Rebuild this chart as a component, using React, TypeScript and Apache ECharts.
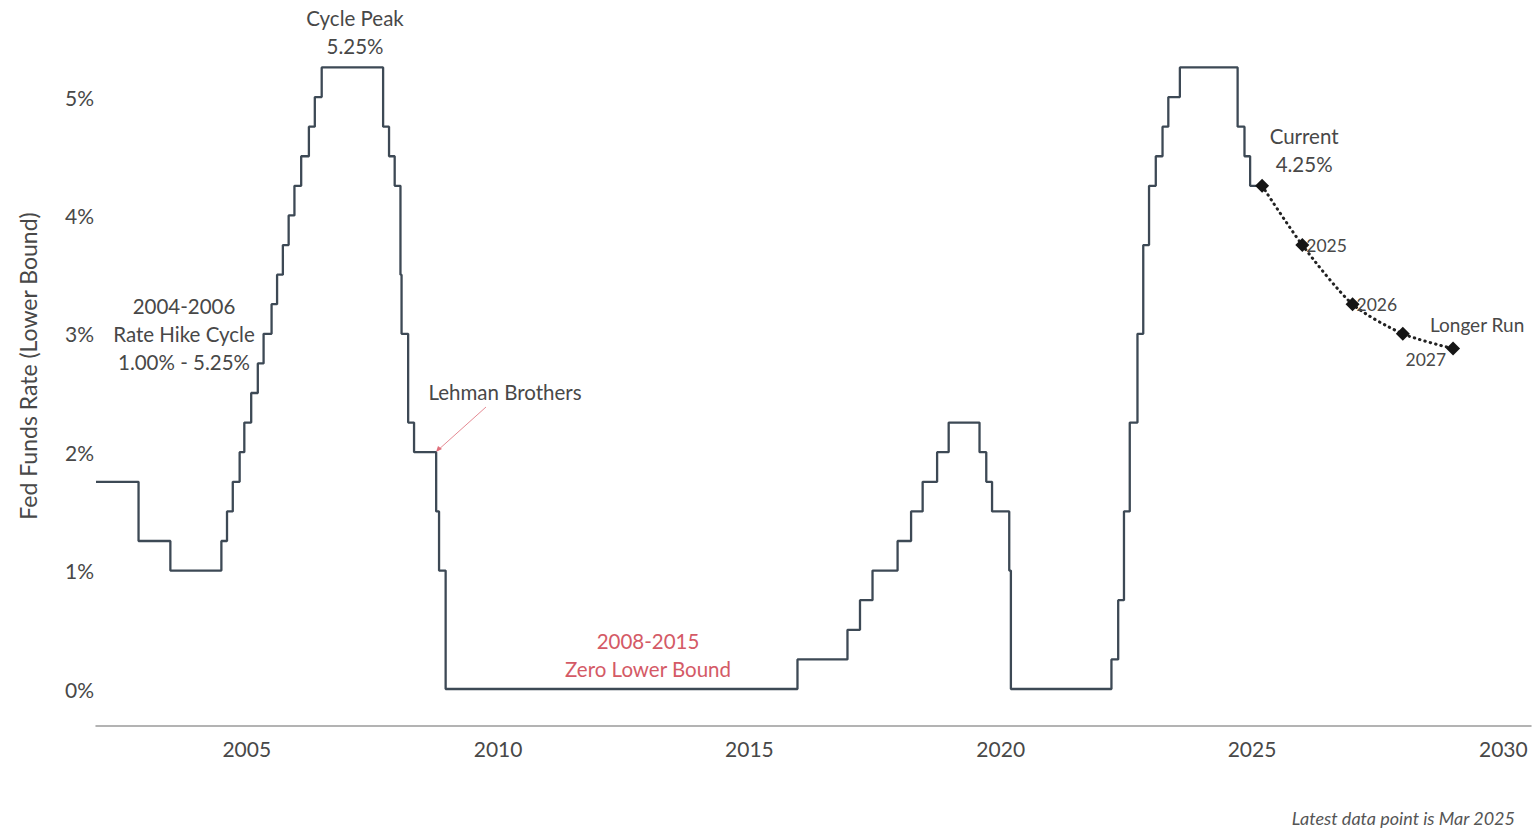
import React, { useEffect, useRef } from "react";
import * as echarts from "echarts";

// Fed funds target rate (lower bound) change dates and new levels
const changeDates = [
  "2002-01-01", "2002-11-06", "2003-06-25", "2004-06-30", "2004-08-10", "2004-09-21",
  "2004-11-10", "2004-12-14", "2005-02-02", "2005-03-22", "2005-05-03", "2005-06-30",
  "2005-08-09", "2005-09-20", "2005-11-01", "2005-12-13", "2006-01-31", "2006-03-28",
  "2006-05-10", "2006-06-29", "2007-09-18", "2007-10-31", "2007-12-11", "2008-01-22",
  "2008-01-30", "2008-03-18", "2008-04-30", "2008-10-08", "2008-10-29", "2008-12-16",
  "2015-12-16", "2016-12-14", "2017-03-15", "2017-06-14", "2017-12-13", "2018-03-21",
  "2018-06-13", "2018-09-26", "2018-12-19", "2019-07-31", "2019-09-18", "2019-10-30",
  "2020-03-03", "2020-03-15", "2022-03-16", "2022-05-04", "2022-06-15", "2022-07-27",
  "2022-09-21", "2022-11-02", "2022-12-14", "2023-02-01", "2023-03-22", "2023-05-03",
  "2023-07-26", "2024-09-18", "2024-11-07", "2024-12-18", "2025-03-15",
];
const rates = [
  1.75, 1.25, 1.0, 1.25, 1.5, 1.75,
  2.0, 2.25, 2.5, 2.75, 3.0, 3.25,
  3.5, 3.75, 4.0, 4.25, 4.5, 4.75,
  5.0, 5.25, 4.75, 4.5, 4.25, 3.5,
  3.0, 2.25, 2.0, 1.5, 1.0, 0.0,
  0.25, 0.5, 0.75, 1.0, 1.25, 1.5,
  1.75, 2.0, 2.25, 2.0, 1.75, 1.5,
  1.0, 0.0, 0.25, 0.75, 1.5, 2.25,
  3.0, 3.75, 4.25, 4.5, 4.75, 5.0,
  5.25, 4.75, 4.5, 4.25, 4.25,
];

// Projections (dot plot medians, lower bound)
const projYears = [2025.2, 2026.0, 2027.0, 2028.0, 2029.0];
const projRates = [4.25, 3.75, 3.25, 3.0, 2.875];
const projLabels = ["Current\n4.25%", "2025", "2026", "2027", "Longer Run"];

const yTicks = [0, 1, 2, 3, 4, 5];
const xTicks = [2005, 2010, 2015, 2020, 2025, 2030];

function toYear(s: string): number {
  const d = new Date(s + "T00:00:00Z");
  const y = d.getUTCFullYear();
  const a = Date.UTC(y, 0, 1);
  const b = Date.UTC(y + 1, 0, 1);
  return y + (d.getTime() - a) / (b - a);
}

const FONT = "Lato, 'Noto Sans', sans-serif";
const TXT = "#484848";
const RED = "#d45a66";

export default function App() {
  const ref = useRef<HTMLDivElement>(null);
  useEffect(() => {
    if (!ref.current) return;
    const chart = echarts.init(ref.current, undefined, { renderer: "svg" });
    const stepData = changeDates.map((d, i) => [toYear(d), rates[i]]);
    const labelCfg: any[] = [
      { position: "top", distance: 1, offset: [42, 0], fontSize: 20.5, lineHeight: 28, align: "center" },
      { position: "right", distance: -3, fontSize: 17.5 },
      { position: "right", distance: -3, fontSize: 17.5 },
      { position: "bottom", distance: 10, offset: [23, 0], fontSize: 17.5 },
      { position: "top", distance: 8, offset: [24, 0], fontSize: 19 },
    ];
    const projData = projYears.map((x, i) => ({
      value: [x, projRates[i]],
      label: {
        show: true,
        formatter: projLabels[i],
        color: TXT,
        fontFamily: FONT,
        ...labelCfg[i],
      },
    }));

    const textEl = (text: string, x: number, y: number, opts: any = {}) => ({
      type: "text",
      x,
      y,
      silent: true,
      style: {
        text,
        fill: opts.fill || TXT,
        font: opts.font || `20.5px ${FONT}`,
        textAlign: opts.align || "center",
        textVerticalAlign: "middle",
        lineHeight: 28,
      },
      rotation: opts.rotation || 0,
    });

    chart.setOption({
      animation: false,
      backgroundColor: "#ffffff",
      grid: { left: 96, right: 3, top: 26, bottom: 103, containLabel: false },
      xAxis: {
        type: "value",
        min: 2002,
        max: 2030.55,
        axisLine: { show: true, onZero: false, lineStyle: { color: "#9a9a9a", width: 1.5 } },
        axisTick: { show: false },
        splitLine: { show: false },
        axisLabel: {
          margin: 12,
          fontSize: 21,
          color: TXT,
          fontFamily: FONT,
          showMinLabel: false,
          showMaxLabel: true,
          formatter: (v: number) => (xTicks.indexOf(Math.round(v * 1000) / 1000) >= 0 ? String(v) : ""),
        },
      },
      yAxis: {
        type: "value",
        min: -0.3125,
        max: 5.6,
        axisLine: { show: false },
        axisTick: { show: false },
        splitLine: { show: false },
        axisLabel: {
          margin: 2,
          fontSize: 21,
          color: TXT,
          fontFamily: FONT,
          formatter: (v: number) => (yTicks.indexOf(Math.round(v * 1000) / 1000) >= 0 ? v + "%" : ""),
        },
      },
      series: [
        {
          type: "line",
          step: "end",
          data: stepData,
          showSymbol: false,
          symbol: "none",
          lineStyle: { color: "#3d4955", width: 2.3 },
          z: 2,
        },
        {
          type: "line",
          data: projData,
          smooth: 0.25,
          symbol: "diamond",
          symbolSize: 14,
          itemStyle: { color: "#151515" },
          lineStyle: { color: "#222222", width: 3, type: [0.5, 5], cap: "round" },
          z: 3,
        },
      ],
      graphic: [
        textEl("Cycle Peak\n5.25%", 355, 32),
        textEl("2004-2006\nRate Hike Cycle\n1.00% - 5.25%", 184, 334),
        textEl("Lehman Brothers", 505, 392),
        textEl("2008-2015\nZero Lower Bound", 648, 655, { fill: RED }),
        textEl("Fed Funds Rate (Lower Bound)", 28, 366, {
          rotation: Math.PI / 2,
          font: `23px ${FONT}`,
        }),
        textEl("Latest data point is Mar 2025", 1515, 818, {
          align: "right",
          font: `italic 18px ${FONT}`,
          fill: "#555555",
        }),
        {
          type: "line",
          silent: true,
          shape: { x1: 486, y1: 407, x2: 437, y2: 451 },
          style: { stroke: "#e58a93", lineWidth: 1 },
        },
        {
          type: "polygon",
          silent: true,
          shape: { points: [[436, 452], [438, 446], [442, 449]] },
          style: { fill: "#e0707c" },
        },
      ],
    });
    return () => chart.dispose();
  }, []);
  return (
    <div
      ref={ref}
      style={{ position: "fixed", left: 0, top: 0, width: 1534, height: 829, background: "#fff" }}
    />
  );
}
